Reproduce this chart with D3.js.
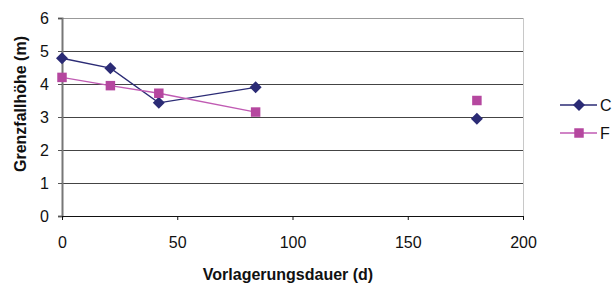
<!DOCTYPE html>
<html>
<head>
<meta charset="utf-8">
<script src="https://cdn.jsdelivr.net/npm/d3@7"></script>
<style>
  body { margin: 0; background: #fff; }
  svg { display: block; font-family: "Liberation Sans", Arial, sans-serif; }
</style>
</head>
<body>
<svg id="chart" width="616" height="286"></svg>
<script>
const days = [0, 21, 42, 84, 126, 180];
const seriesC = [4.78, 4.48, 3.43, 3.9, null, 2.95];
const seriesF = [4.2, 3.95, 3.72, 3.15, null, 3.5];
const xTicks = [0, 50, 100, 150, 200];
const yTicks = [0, 1, 2, 3, 4, 5, 6];

const svg = d3.select('#chart');
const x = d3.scaleLinear().domain([0, 200]).range([62, 523]);
const y = d3.scaleLinear().domain([0, 6]).range([216, 18]);
const FONT = '"Liberation Sans", Arial, sans-serif';

// gridlines
svg.append('g').selectAll('line')
  .data(yTicks.filter(t => t > 0))
  .enter().append('line')
  .attr('x1', x(0)).attr('x2', x(200))
  .attr('y1', d => y(d)).attr('y2', d => y(d))
  .attr('stroke', d => d === 6 ? '#999' : '#444')
  .attr('stroke-width', 1)
  .attr('shape-rendering', 'crispEdges');

// right border
svg.append('line')
  .attr('x1', x(200)).attr('x2', x(200))
  .attr('y1', y(6)).attr('y2', y(0))
  .attr('stroke', '#c8c8c8').attr('shape-rendering', 'crispEdges');

// y axis
const yAxis = svg.append('g')
  .attr('transform', `translate(${x(0)},0)`)
  .call(d3.axisLeft(y).tickValues(yTicks).tickFormat(d3.format('d')).tickSize(4).tickPadding(9));
yAxis.select('.domain').attr('stroke', '#777').attr('stroke-width', 2);
yAxis.selectAll('.tick line').attr('stroke', '#555');
yAxis.selectAll('text').attr('font-size', 16).attr('fill', '#111').attr('font-family', FONT);

// x axis
const xAxis = svg.append('g')
  .attr('transform', `translate(0,${y(0)})`)
  .call(d3.axisBottom(x).tickValues(xTicks).tickSize(4).tickPadding(17).tickSizeOuter(0));
xAxis.select('.domain').attr('stroke', '#111');
xAxis.selectAll('.tick line').attr('stroke', '#111');
xAxis.selectAll('text').attr('font-size', 16).attr('fill', '#111').attr('font-family', FONT);

// axis titles
svg.append('text')
  .attr('x', 288).attr('y', 280)
  .attr('text-anchor', 'middle')
  .attr('font-size', 16).attr('font-weight', 'bold').attr('fill', '#111')
  .text('Vorlagerungsdauer (d)');

svg.append('text')
  .attr('transform', 'translate(26,104) rotate(-90)')
  .attr('text-anchor', 'middle')
  .attr('font-size', 16).attr('font-weight', 'bold').attr('fill', '#111')
  .text('Grenzfallhöhe (m)');

const series = [
  { name: 'C', values: seriesC, line: '#2b2b75', fill: '#2b2b75', shape: d3.symbolSquare, size: 72, rot: 45 },
  { name: 'F', values: seriesF, line: '#c05bb3', fill: '#b5479f', shape: d3.symbolSquare, size: 90, rot: 0 }
];

const line = d3.line()
  .defined(d => d[1] !== null)
  .x(d => x(d[0]))
  .y(d => y(d[1]));

series.forEach(s => {
  const pts = days.map((d, i) => [d, s.values[i]]);
  svg.append('path')
    .datum(pts)
    .attr('fill', 'none')
    .attr('stroke', s.line)
    .attr('stroke-width', 1.3)
    .attr('d', line);
  svg.append('g').selectAll('path')
    .data(pts.filter(p => p[1] !== null))
    .enter().append('path')
    .attr('transform', p => `translate(${x(p[0])},${y(p[1])}) rotate(${s.rot})`)
    .attr('d', d3.symbol().type(s.shape).size(s.size))
    .attr('fill', s.fill);
});

// legend
const legend = svg.append('g');
series.forEach((s, i) => {
  const ly = 105 + i * 28;
  legend.append('line')
    .attr('x1', 560).attr('x2', 597).attr('y1', ly).attr('y2', ly)
    .attr('stroke', s.line).attr('stroke-width', 1.3);
  legend.append('path')
    .attr('transform', `translate(579,${ly}) rotate(${s.rot})`)
    .attr('d', d3.symbol().type(s.shape).size(s.size))
    .attr('fill', s.fill);
  legend.append('text')
    .attr('x', 600).attr('y', ly + 6)
    .attr('font-size', 16).attr('fill', '#111')
    .text(s.name);
});
</script>
</body>
</html>
